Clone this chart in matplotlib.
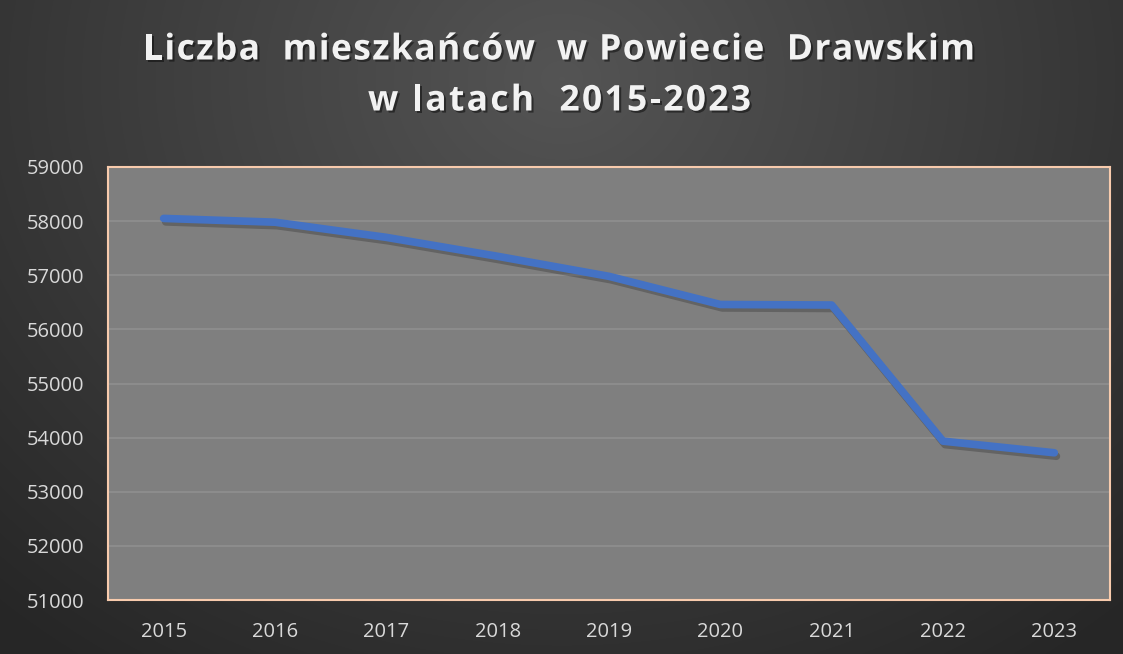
import numpy as np
import matplotlib
matplotlib.use("Agg")
import matplotlib.pyplot as plt
import matplotlib.patheffects as pe
from matplotlib.font_manager import FontProperties
from matplotlib.textpath import text_to_path

years = ["2015", "2016", "2017", "2018", "2019", "2020", "2021", "2022", "2023"]
population = [58050, 57980, 57700, 57350, 56980, 56460, 56450, 53935, 53720]
y_ticks = [51000, 52000, 53000, 54000, 55000, 56000, 57000, 58000, 59000]
title_lines = ["Liczba  mieszkańców  w Powiecie  Drawskim", "w latach  2015-2023"]

plt.rcParams['font.family'] = ['Open Sans', 'DejaVu Sans']

W, H = 1123, 654
fig = plt.figure(figsize=(W / 100, H / 100), dpi=100)

# background radial gradient
bg = fig.add_axes([0, 0, 1, 1], zorder=-10)
yy, xx = np.mgrid[0:H, 0:W]
cx, cy = W * 0.5, H * 0.12
r = np.sqrt(((xx - cx) / (W * 0.75)) ** 2 + ((yy - cy) / (H * 1.1)) ** 2)
r = np.clip(r, 0, 1)
light, dark = 0.33, 0.15
val = light + (dark - light) * r
img = np.dstack([val, val, val])
bg.imshow(img, aspect='auto', extent=[0, 1, 0, 1], origin='upper')
bg.set_axis_off()

ax = fig.add_axes([108 / W, 1 - 600 / H, (1110 - 108) / W, (600 - 167) / H])
ax.set_facecolor('#7f7f7f')
x = np.arange(len(years))
ax.plot(x, population, color='#4472C4', lw=5.5, solid_capstyle='round',
        solid_joinstyle='round', zorder=3,
        path_effects=[pe.SimpleLineShadow(offset=(1.5, -2.5), shadow_color='black', alpha=0.22),
                      pe.Normal()])
ax.set_xlim(-0.5, len(years) - 0.5)
ax.set_ylim(51000, 59000)
ax.set_yticks(y_ticks)
ax.set_yticklabels([str(v) for v in y_ticks])
ax.set_xticks(x)
ax.set_xticklabels(years)
ax.grid(axis='y', color='#8f8f8f', lw=1.2, zorder=1)
ax.set_axisbelow(True)
ax.tick_params(axis='both', length=0, colors='#d9d9d9', labelsize=14.5)
ax.tick_params(axis='y', pad=17)
ax.tick_params(axis='x', pad=16)
for s in ax.spines.values():
    s.set_color('#f8cbad')
    s.set_linewidth(1.5)

# title with letter spacing, drawn character by character
fs = 25.5
prop = FontProperties(family=['Open Sans', 'DejaVu Sans'], weight='bold', size=fs)
px_per_pt = 100 / 72.0


def width_px(s):
    w_bar, _, _ = text_to_path.get_text_width_height_descent("|", prop, ismath=False)
    w, _, _ = text_to_path.get_text_width_height_descent(s + "|", prop, ismath=False)
    return (w - w_bar) * px_per_pt


targets = [(143, 975, 46), (368, 751, 97)]  # left px, right px, vertical centre px
effects = [pe.SimplePatchShadow(offset=(1.5, -1.5), shadow_rgbFace='black', alpha=0.45),
           pe.Normal()]
for line, (xl, xr, yc) in zip(title_lines, targets):
    offs = [width_px(line[:i]) for i in range(len(line))]
    natural = width_px(line)
    spacing = ((xr - xl) - natural) / (len(line) - 1)
    for i, ch in enumerate(line):
        if ch == ' ':
            continue
        fig.text((xl + offs[i] + i * spacing) / W, 1 - yc / H, ch, ha='left',
                 va='center_baseline', fontproperties=prop, color='#f2f2f2',
                 path_effects=effects)

fig.savefig('out.png', dpi=100)
